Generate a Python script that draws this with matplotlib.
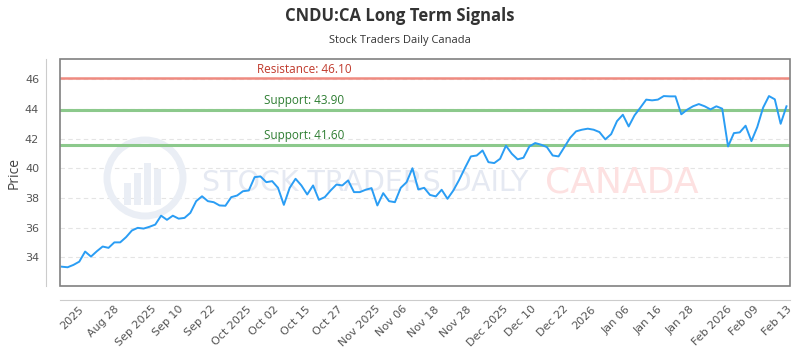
import matplotlib
matplotlib.use("Agg")
import matplotlib.pyplot as plt
from matplotlib.patches import Circle, Rectangle
import numpy as np

# Closing prices, Aug 18 2025 .. Feb 13 2026
prices = [
    33.36, 33.32, 33.48, 33.70, 34.38, 34.04, 34.40, 34.72, 34.63, 35.00,
    35.00, 35.35, 35.80, 35.98, 35.93, 36.05, 36.20, 36.80, 36.52, 36.80,
    36.60, 36.65, 36.99, 37.78, 38.11, 37.78, 37.71, 37.49, 37.47, 38.05,
    38.16, 38.45,
    38.50, 39.40, 39.45, 39.06, 39.13, 38.68, 37.53, 38.68, 39.29, 38.84,
    38.23, 38.84, 37.87, 38.05, 38.50, 38.90, 38.84, 39.18, 38.39, 38.39,
    38.55, 38.66, 37.49, 38.32, 37.78, 37.71, 38.68, 39.06, 40.00, 38.57,
    38.68, 38.20,
    38.10, 38.55, 37.94, 38.50, 39.22, 40.03, 40.80, 40.86, 41.20, 40.41,
    40.35, 40.64, 41.52, 40.98, 40.60, 40.71, 41.47, 41.70, 41.59, 41.43,
    40.86, 40.80, 41.43, 42.06, 42.49, 42.60, 42.67, 42.60, 42.44, 41.95,
    42.30,
    43.18, 43.61, 42.82, 43.57, 44.09, 44.63, 44.58, 44.63, 44.87, 44.85,
    44.85, 43.64, 43.95, 44.18, 44.33, 44.18, 43.97, 44.18, 44.02, 41.47,
    42.37, 42.42, 42.87, 41.83, 42.78, 44.09, 44.87, 44.65, 43.00, 44.18,
]

tick_labels = ["2025", "Aug 28", "Sep 2025", "Sep 10", "Sep 22", "Oct 2025",
               "Oct 02", "Oct 15", "Oct 27", "Nov 2025", "Nov 06", "Nov 18",
               "Nov 28", "Dec 2025", "Dec 10", "Dec 22", "2026", "Jan 06",
               "Jan 16", "Jan 28", "Feb 2026", "Feb 09", "Feb 13"]

resistance = 46.10
supports = [43.90, 41.60]

fig = plt.figure(figsize=(8, 3.5), dpi=100)
ax = fig.add_axes([0.075, 0.183, 0.9125, 0.648])

x = np.arange(len(prices))
ax.plot(x, prices, color="#2a9df4", lw=1.4, zorder=5)

# resistance / support levels
ax.axhline(resistance, color="#ef8a80", lw=1.8, zorder=3)
ax.text(0.335, resistance + 0.12, f"Resistance: {resistance:.2f}", transform=ax.get_yaxis_transform(),
        ha="center", va="bottom", color="#c0392b", fontsize=8.5, family="Open Sans")
for s in supports:
    ax.axhline(s, color="#8cc98c", lw=2.2, zorder=3)
    ax.text(0.335, s + 0.2, f"Support: {s:.2f}", transform=ax.get_yaxis_transform(),
            ha="center", va="bottom", color="#2e7d32", fontsize=8.5, family="Open Sans")

ax.set_xlim(-0.3, 124.6)
ax.set_ylim(32.06, 47.36)
ax.set_yticks(np.arange(34, 47, 2))
ax.set_xticks(np.linspace(1.7, 122.3, len(tick_labels)))
ax.set_xticklabels(tick_labels)
ax.tick_params(axis="both", length=0, labelsize=8, labelcolor="#555555")
ax.tick_params(axis="y", pad=5)
ax.tick_params(axis="x", pad=3, labelrotation=45)
for lab in ax.get_xticklabels():
    lab.set_ha("right")
    lab.set_rotation_mode("anchor")
    lab.set_family("Open Sans")
for lab in ax.get_yticklabels():
    lab.set_family("Open Sans")

ax.grid(axis="y", color="#e4e4e4", ls=(0, (4, 3)), lw=0.8)
ax.set_axisbelow(True)
ax.set_ylabel("Price", fontsize=10, color="#444444", family="Open Sans")
ax.yaxis.set_label_coords(-0.053, 0.5)

# offset axis lines + plot frame
for side in ["top", "right"]:
    ax.spines[side].set_visible(False)
ax.spines["left"].set_position(("outward", 10))
ax.spines["bottom"].set_position(("outward", 10))
ax.spines["left"].set_color("#cccccc")
ax.spines["bottom"].set_color("#cccccc")
ax.add_patch(Rectangle((0, 0), 1, 1, transform=ax.transAxes, fill=False,
                       ec="#808080", lw=1.2, zorder=6, clip_on=False))

# watermark
ax.add_patch(Circle((1.45, 1.72), 0.38, transform=fig.dpi_scale_trans,
                    fill=False, ec="#eaeef5", lw=5, zorder=1))
for bx, bh in zip([1.24, 1.34, 1.44, 1.54], [0.22, 0.32, 0.42, 0.36]):
    ax.add_patch(Rectangle((bx, 1.45), 0.07, bh, transform=fig.dpi_scale_trans,
                           fc="#eaeef5", ec="none", zorder=1))
ax.text(0.418, 0.455, "STOCK TRADERS DAILY", transform=ax.transAxes, ha="center",
        va="center", fontsize=20.5, color="#e5e9f2", zorder=1)
ax.text(0.77, 0.455, "CANADA", transform=ax.transAxes, ha="center",
        va="center", fontsize=26, color="#fde1e1", zorder=1)

fig.text(0.5, 0.955, "CNDU:CA Long Term Signals", ha="center", va="center",
         fontsize=12, fontweight="bold", color="#333333", family="Open Sans")
fig.text(0.5, 0.885, "Stock Traders Daily Canada", ha="center", va="center",
         fontsize=8, color="#333333", family="Open Sans")

fig.savefig("out.png", dpi=100)
